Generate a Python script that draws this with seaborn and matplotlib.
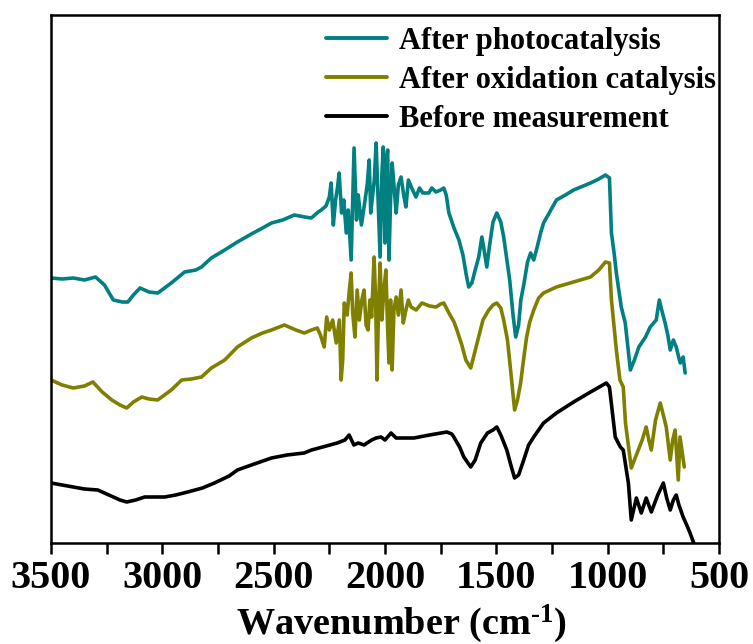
import numpy as np
import pandas as pd
import matplotlib
matplotlib.use("Agg")
import matplotlib.pyplot as plt
from matplotlib.ticker import MultipleLocator
import seaborn as sns

# ---------------- data ----------------
labels = ["After photocatalysis", "After oxidation catalysis", "Before measurement"]
colors = ["#008080", "#808000", "#000000"]

photo_wn = [3500, 3450, 3400, 3350, 3300, 3260, 3220, 3180, 3155, 3130, 3100, 3060, 3020, 2960,
            2900, 2850, 2824, 2780, 2720, 2663, 2600, 2550, 2510, 2460, 2407, 2360, 2331, 2300,
            2286, 2265, 2250, 2242, 2232, 2222, 2213, 2206, 2195, 2185, 2174, 2165, 2152, 2145,
            2139, 2128, 2120, 2106, 2094, 2080, 2071, 2064, 2058, 2048, 2040, 2031, 2022, 2014,
            2008, 2000, 1994, 1988, 1982, 1975, 1968, 1958, 1950, 1940, 1928, 1916, 1906, 1895,
            1880, 1861, 1845, 1830, 1803, 1790, 1771, 1750, 1736, 1725, 1713, 1690, 1668, 1650,
            1635, 1624, 1610, 1595, 1579, 1565, 1555, 1543, 1530, 1515, 1498, 1480, 1467, 1440,
            1425, 1413, 1400, 1390, 1377, 1360, 1346, 1332, 1320, 1300, 1288, 1260, 1230, 1190,
            1153, 1110, 1077, 1040, 1010, 992, 983, 970, 961, 945, 939, 921, 910, 898, 880, 860,
            830, 809, 782, 768, 755, 742, 730, 719, 705, 692, 680, 674, 661, 652]
photo_val = [265, 264, 265, 263, 266, 258, 243, 241, 241, 248, 255, 251, 250, 260,
             271, 273, 276, 285, 293, 301, 309, 315, 320, 323, 328, 326, 325, 331,
             333, 337, 346, 360, 318, 343, 356, 370, 330, 343, 310, 333, 283, 343,
             395, 323, 348, 318, 336, 358, 383, 330, 343, 363, 400, 343, 286, 368,
             396, 300, 383, 393, 283, 343, 380, 353, 330, 358, 366, 348, 336, 363,
             355, 346, 355, 350, 350, 355, 351, 353, 355, 348, 330, 315, 303, 288,
             268, 256, 260, 273, 286, 306, 293, 276, 298, 321, 330, 321, 306, 263,
             228, 206, 218, 243, 258, 281, 290, 283, 293, 311, 320, 331, 343, 348,
             353, 357, 360, 364, 368, 365, 310, 288, 270, 245, 236, 220, 198, 173, 183, 196,
             206, 216, 223, 243, 231, 220, 208, 193, 203, 196, 185, 180, 186, 170]

oxid_wn = [3500, 3450, 3400, 3350, 3312, 3270, 3227, 3190, 3160, 3130, 3092, 3060, 3021, 2960,
           2913, 2870, 2824, 2780, 2720, 2663, 2600, 2550, 2510, 2452, 2400, 2363, 2330, 2304,
           2290, 2273, 2262, 2250, 2235, 2219, 2205, 2197, 2190, 2183, 2170, 2160, 2152, 2145,
           2135, 2125, 2115, 2104, 2094, 2085, 2076, 2068, 2060, 2049, 2042, 2036, 2028, 2022,
           2014, 2005, 1996, 1988, 1982, 1975, 1968, 1960, 1950, 1940, 1928, 1918, 1906, 1895,
           1883, 1860, 1834, 1800, 1771, 1750, 1736, 1713, 1690, 1677, 1655, 1637, 1615, 1600,
           1579, 1560, 1534, 1515, 1498, 1480, 1467, 1450, 1436, 1418, 1405, 1391, 1378, 1364,
           1350, 1332, 1310, 1288, 1230, 1153, 1077, 1040, 1010, 992, 983, 970, 961, 945, 930,
           920, 894, 880, 862, 845, 827, 815, 804, 785, 764, 750, 737, 719, 708, 697, 683, 675, 656]
oxid_val = [163, 158, 155, 157, 161, 151, 143, 138, 135, 141, 146, 144, 143, 153,
            163, 164, 166, 175, 183, 196, 205, 210, 213, 218, 213, 210, 213, 215,
            208, 196, 226, 213, 223, 200, 223, 163, 183, 240, 228, 253, 270, 230,
            206, 253, 223, 243, 253, 218, 213, 243, 226, 286, 243, 163, 243, 280,
            223, 253, 273, 213, 180, 243, 173, 233, 246, 228, 253, 220, 233, 243,
            236, 233, 240, 237, 236, 239, 240, 230, 221, 213, 198, 183, 175, 188,
            206, 223, 233, 238, 240, 235, 223, 203, 173, 133, 143, 160, 183, 206,
            221, 233, 245, 250, 256, 261, 266, 273, 281, 280, 243, 213, 193, 163, 156,
            120, 75, 83, 93, 103, 116, 103, 93, 123, 140, 128, 116, 83, 103, 113, 63, 106, 76]

before_wn = [3500, 3450, 3400, 3350, 3290, 3230, 3190, 3160, 3120, 3079, 3030, 2989, 2940, 2886,
             2820, 2766, 2700, 2663, 2600, 2510, 2440, 2363, 2330, 2280, 2215, 2180, 2161, 2140,
             2120, 2094, 2060, 2040, 2018, 2000, 1973, 1950, 1870, 1800, 1722, 1700, 1691, 1665,
             1646, 1615, 1595, 1570, 1540, 1515, 1498, 1480, 1453, 1435, 1418, 1400, 1377, 1355,
             1332, 1288, 1230, 1153, 1077, 1006, 992, 966, 943, 930, 907, 894, 871, 849, 827, 804,
             775, 750, 735, 719, 705, 692, 680, 661, 645, 630, 607]
before_val = [60, 58, 56, 54, 53, 47, 43, 41, 43, 46, 46, 46, 48, 51,
              55, 60, 67, 73, 78, 85, 88, 90, 93, 96, 100, 103, 108, 98,
              100, 98, 103, 105, 106, 103, 110, 105, 105, 108, 111, 109, 106, 96,
              86, 76, 83, 100, 110, 113, 116, 108, 93, 78, 65, 68, 83, 98,
              106, 120, 130, 141, 151, 160, 156, 106, 96, 93, 60, 23, 45, 30, 45, 31,
              48, 60, 45, 33, 43, 48, 38, 26, 18, 10, -4]

x_ticks = [3500, 3000, 2500, 2000, 1500, 1000, 500]

# ---------------- build table ----------------
frames = []
for lab, wn, val in [(labels[0], photo_wn, photo_val),
                     (labels[1], oxid_wn, oxid_val),
                     (labels[2], before_wn, before_val)]:
    frames.append(pd.DataFrame({"wn": wn, "val": val, "sample": lab}))
df = pd.concat(frames, ignore_index=True)

# ---------------- style ----------------
sns.set_style("ticks")
plt.rcParams["font.family"] = ["Liberation Serif", "DejaVu Serif"]
plt.rcParams["font.weight"] = "bold"
plt.rcParams["mathtext.fontset"] = "custom"
plt.rcParams["mathtext.rm"] = "Liberation Serif:bold"
plt.rcParams["mathtext.bf"] = "Liberation Serif:bold"
plt.rcParams["mathtext.it"] = "Liberation Serif:bold"
plt.rcParams["mathtext.default"] = "rm"
for k in ["text.color", "axes.labelcolor", "xtick.color", "ytick.color", "axes.edgecolor"]:
    plt.rcParams[k] = "black"

fig = plt.figure(figsize=(7.53, 6.44), dpi=100)
ax = fig.add_axes([51 / 753, 1 - 543 / 644, (719 - 51) / 753, (543 - 15) / 644])

sns.lineplot(data=df, x="wn", y="val", hue="sample", hue_order=labels,
             palette=dict(zip(labels, colors)), linewidth=2.6, ax=ax,
             estimator=None, sort=False)

ax.set_xlim(3500, 500)
ax.set_ylim(0, 528)
ax.set_xticks(x_ticks)
ax.set_xticklabels([str(t) for t in x_ticks])
ax.xaxis.set_minor_locator(MultipleLocator(250))
ax.set_yticks([])
ax.set_ylabel("")
ax.set_xlabel(r"Wavenumber (cm$^{\text{-}1}$)", fontsize=27.5, fontweight="bold")
ax.xaxis.set_label_coords(0.525, -0.113)

ax.tick_params(axis="x", which="both", direction="out", length=8, width=1.8,
               labelsize=29, pad=4, top=False)
for lab in ax.get_xticklabels():
    lab.set_fontweight("bold")
for s in ax.spines.values():
    s.set_linewidth(1.8)
    s.set_color("black")

handles, leg_labels = ax.get_legend_handles_labels()
leg = ax.legend(handles, leg_labels, loc="upper left",
                bbox_to_anchor=(326 / 753, 1 - 27 / 644), bbox_transform=fig.transFigure,
                frameon=False, fontsize=22, handlelength=2.0, handletextpad=0.4,
                labelspacing=0.33, borderpad=0, borderaxespad=0)
for h in leg.get_lines():
    h.set_linewidth(2.8)
for t in leg.get_texts():
    t.set_fontweight("bold")

fig.savefig("out.png", dpi=100)
